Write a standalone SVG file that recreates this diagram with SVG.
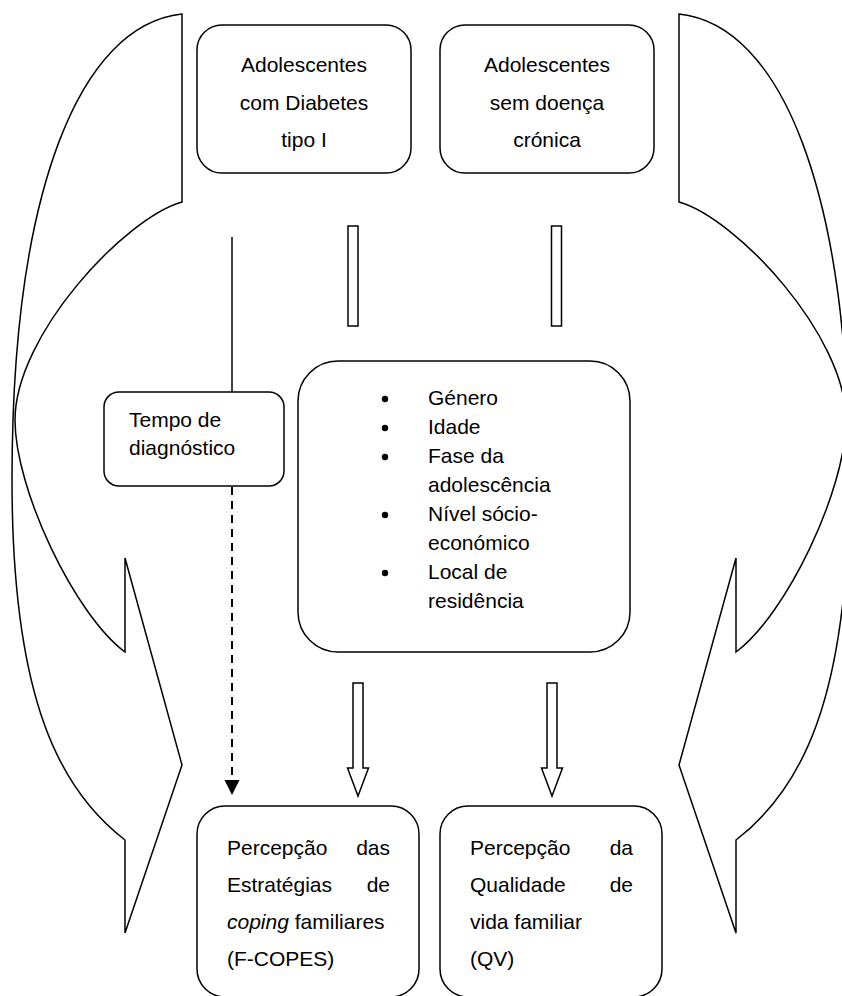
<svg xmlns="http://www.w3.org/2000/svg" width="842" height="996" viewBox="0 0 842 996">
<defs>
<style>
.shape{fill:#fff;stroke:#000;stroke-width:1.5}
.ln{fill:none;stroke:#000;stroke-width:1.5}
.dash{fill:none;stroke:#000;stroke-width:2;stroke-dasharray:8 6}
text{font-family:"Liberation Sans",Arial,sans-serif;font-size:21px;fill:#000}
.c{text-anchor:middle}
.e{text-anchor:end}
</style>
<marker id="tri" markerUnits="userSpaceOnUse" markerWidth="16" markerHeight="16" refX="15" refY="7.5" orient="auto">
<path d="M0,0 L15,7.5 L0,15 Z" fill="#000"/>
</marker>
</defs>
<rect width="842" height="996" fill="#fff"/>

<g id="curved-arrow-left">
<path class="shape" d="M182,14 L182,202 C125,218 15,335 15,420 C15,490 75,615 125,652 L125,558 L182,765 L125,933 L125,840 C60,790 12,700 12,480 C12,190 80,25 182,14 Z"/>
</g>
<g id="curved-arrow-right">
<path class="shape" transform="translate(861,0) scale(-1,1)" d="M182,14 L182,202 C125,218 15,335 15,420 C15,490 75,615 125,652 L125,558 L182,765 L125,933 L125,840 C60,790 12,700 12,480 C12,190 80,25 182,14 Z"/>
</g>

<g id="node-diabetes">
<rect class="shape" x="197" y="25" width="214" height="148" rx="25" ry="25"/>
<text class="c" x="304" y="72">Adolescentes</text>
<text class="c" x="304" y="110">com Diabetes</text>
<text class="c" x="304" y="147">tipo I</text>
</g>
<g id="node-sem-doenca">
<rect class="shape" x="440" y="25" width="214" height="148" rx="25" ry="25"/>
<text class="c" x="547" y="72">Adolescentes</text>
<text class="c" x="547" y="110">sem doença</text>
<text class="c" x="547" y="147">crónica</text>
</g>

<g id="node-tempo">
<rect class="shape" x="104" y="392" width="180" height="94" rx="15" ry="15"/>
<text x="129" y="427">Tempo de</text>
<text x="129" y="455">diagnóstico</text>
</g>

<g id="node-variaveis">
<rect class="shape" x="298" y="361" width="332" height="291" rx="40" ry="40"/>
<circle cx="385" cy="399" r="3.2"/>
<circle cx="385" cy="428" r="3.2"/>
<circle cx="385" cy="457" r="3.2"/>
<circle cx="385" cy="515" r="3.2"/>
<circle cx="385" cy="573" r="3.2"/>
<text x="428" y="405">Género</text>
<text x="428" y="434">Idade</text>
<text x="428" y="463">Fase da</text>
<text x="428" y="492">adolescência</text>
<text x="428" y="521">Nível sócio-</text>
<text x="428" y="550">económico</text>
<text x="428" y="579">Local de</text>
<text x="428" y="608">residência</text>
</g>

<g id="node-fcopes">
<rect class="shape" x="197" y="806" width="222" height="191" rx="28" ry="28"/>
<text x="227" y="855">Percepção</text>
<text class="e" x="390" y="855">das</text>
<text x="227" y="892">Estratégias</text>
<text class="e" x="390" y="892">de</text>
<text x="227" y="929"><tspan font-style="italic">coping</tspan> familiares</text>
<text x="227" y="966">(F-COPES)</text>
</g>
<g id="node-qv">
<rect class="shape" x="440" y="806" width="222" height="191" rx="28" ry="28"/>
<text x="470" y="855">Percepção</text>
<text class="e" x="633" y="855">da</text>
<text x="470" y="892">Qualidade</text>
<text class="e" x="633" y="892">de</text>
<text x="470" y="929">vida familiar</text>
<text x="470" y="966">(QV)</text>
</g>

<g id="connectors">
<line class="ln" x1="232" y1="237" x2="232" y2="392"/>
<line class="dash" x1="232" y1="487" x2="232" y2="795" marker-end="url(#tri)"/>
<rect class="shape" x="348" y="226" width="10" height="100"/>
<rect class="shape" x="551.5" y="226" width="10" height="100"/>
<path class="shape" d="M353,683 L363,683 L363,768 L368.5,768 L358,796 L347.5,768 L353,768 Z"/>
<path class="shape" d="M547,683 L557,683 L557,768 L562.5,768 L552,796 L541.5,768 L547,768 Z"/>
</g>
</svg>
